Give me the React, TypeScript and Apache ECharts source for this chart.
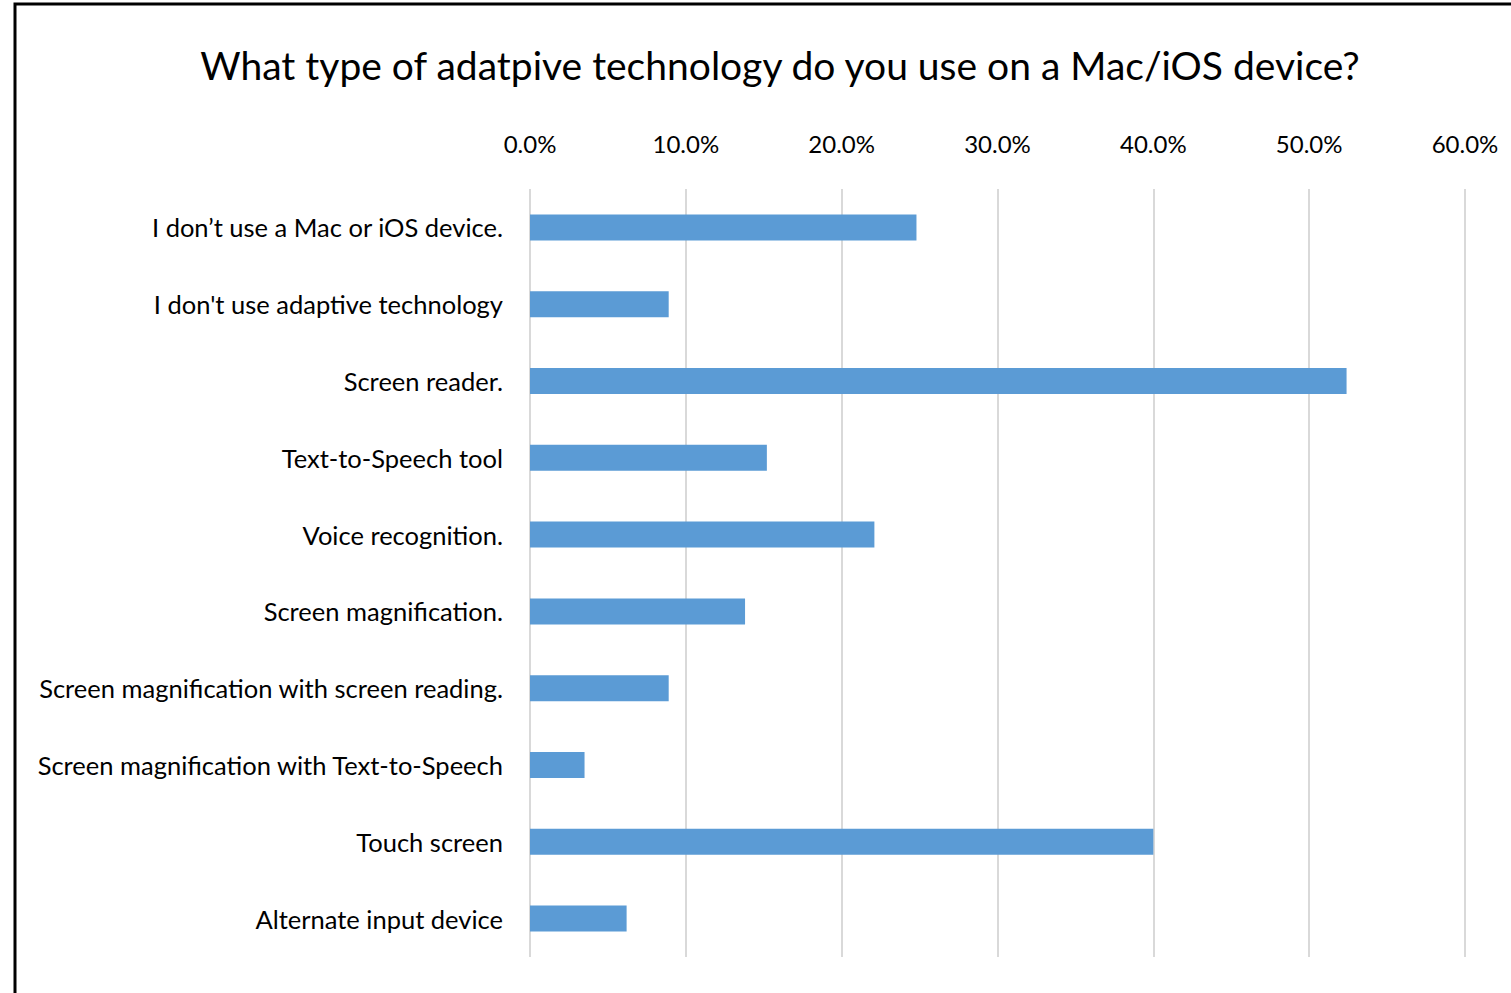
import React, { useEffect, useRef } from "react";
import * as echarts from "echarts";

const categories = [
  "I don\u2019t use a Mac or iOS device.",
  "I don't use adaptive technology",
  "Screen reader.",
  "Text-to-Speech tool",
  "Voice recognition.",
  "Screen magnification.",
  "Screen magnification with screen reading.",
  "Screen magnification with Text-to-Speech",
  "Touch screen",
  "Alternate input device",
];
const values = [0.248, 0.089, 0.524, 0.152, 0.221, 0.138, 0.089, 0.035, 0.4, 0.062];
const titleText = "What type of adatpive technology do you use on a Mac/iOS device?";

const FONT = "Lato, sans-serif";

export default function App() {
  const ref = useRef<HTMLDivElement>(null);
  useEffect(() => {
    document.body.style.margin = "0";
    const chart = echarts.init(ref.current!, null, { renderer: "svg" });
    chart.setOption({
      animation: false,
      backgroundColor: "#ffffff",
      title: {
        text: titleText,
        left: 775,
        textAlign: "center",
        top: 40,
        textStyle: { fontFamily: FONT, fontSize: 39, fontWeight: "normal", color: "#000" },
      },
      graphic: [
        {
          type: "rect",
          shape: { x: 15, y: 4, width: 1600, height: 1100 },
          style: { fill: "none", stroke: "#000", lineWidth: 3 },
        },
      ],
      grid: {
        left: 530,
        right: 46,
        top: 189,
        bottom: 36,
        containLabel: false,
        outerBoundsMode: "none",
      },
      xAxis: {
        type: "value",
        position: "top",
        min: 0,
        max: 0.6,
        interval: 0.1,
        axisLine: { show: false },
        axisTick: { show: false },
        splitLine: { show: true, lineStyle: { color: "#d9d9d9", width: 2 } },
        axisLabel: {
          margin: 34,
          fontFamily: FONT,
          fontSize: 24,
          color: "#000",
          formatter: (v: number) => (v * 100).toFixed(1) + "%",
        },
      },
      yAxis: {
        type: "category",
        data: categories,
        inverse: true,
        axisLine: { show: false },
        axisTick: { show: false },
        axisLabel: { margin: 27, fontFamily: FONT, fontSize: 25.5, color: "#000" },
      },
      series: [
        {
          type: "bar",
          data: values,
          barWidth: 26,
          itemStyle: { color: "#5b9bd5" },
        },
      ],
    });
    return () => chart.dispose();
  }, []);
  return <div ref={ref} style={{ width: 1511, height: 993 }} />;
}
